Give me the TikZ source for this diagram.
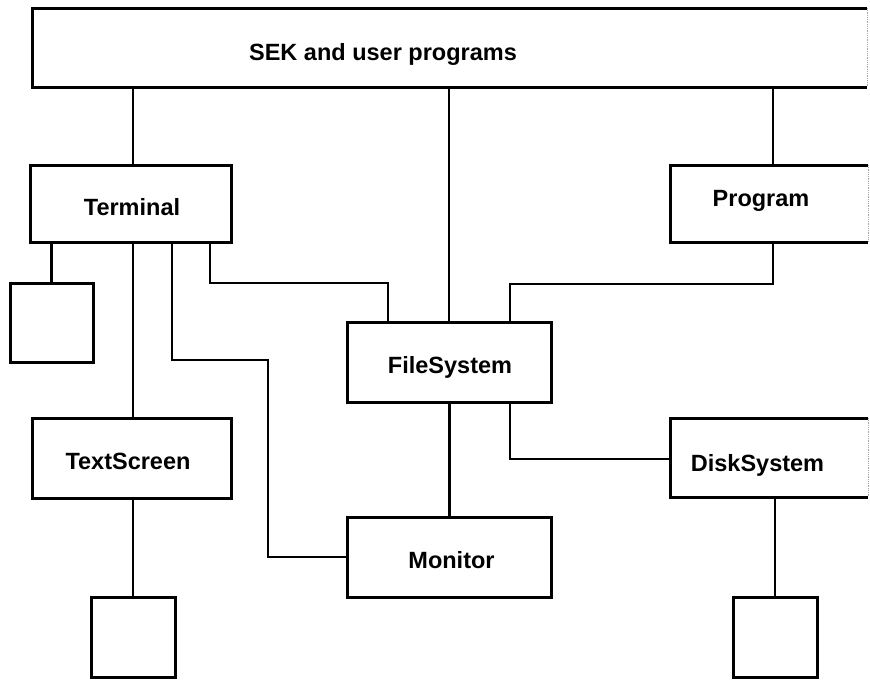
\documentclass[tikz,border=0pt]{standalone}
\usepackage{fontspec}
\setmainfont{Liberation Sans}
\begin{document}
\begin{tikzpicture}[x=1pt,y=-1pt,
  box/.style={draw=black,line width=3pt,rectangle,inner sep=0pt,outer sep=0pt},
  openbox/.style={draw=none,rectangle,inner sep=0pt,outer sep=0pt},
  lbl/.style={anchor=base,inner sep=0pt,font=\fontsize{23.5}{28}\selectfont\bfseries},
  wire/.style={line width=2.8pt,line join=miter,line cap=rect},
  faint/.style={line width=0.8pt,gray!70,densely dotted}]
\useasboundingbox (0,0) rectangle (870,680);
\fill[white] (0,0) rectangle (870,680);

% boxes
\node[openbox,minimum width=835pt,minimum height=79pt] (top) at (449.5,47.5) {};
\node[box,minimum width=201pt,minimum height=77pt] (term) at (130.5,203.5) {};
\node[openbox,minimum width=198pt,minimum height=77pt] (prog) at (769,203.5) {};
\node[box,minimum width=83pt,minimum height=79pt] (sqa) at (51.5,322.5) {};
\node[box,minimum width=204pt,minimum height=80pt] (fs) at (449,362) {};
\node[box,minimum width=199pt,minimum height=80pt] (ts) at (131.5,458) {};
\node[openbox,minimum width=198pt,minimum height=79pt] (ds) at (769,457.5) {};
\node[box,minimum width=204pt,minimum height=80pt] (mon) at (449.5,557) {};
\node[box,minimum width=84pt,minimum height=80pt] (sqb) at (133,637.5) {};
\node[box,minimum width=84pt,minimum height=80pt] (sqc) at (775,637.5) {};

% boxes cut by the right edge: strong left/top/bottom, faint right side
\foreach \n in {top,prog,ds}{
  \draw[line width=3pt,line join=miter] (\n.north east) -- (\n.north west) -- (\n.south west) -- (\n.south east);
  \draw[faint] (\n.north east) -- (\n.south east);
}

% labels
\node[lbl] (ltop) at (383,60) {SEK and user programs};
\node[lbl] (lterm) at (132,215) {Terminal};
\node[lbl] (lprog) at (761,206) {Program};
\node[lbl] (lfs) at (450,373) {FileSystem};
\node[lbl] (lts) at (128,469) {TextScreen};
\node[lbl] (lds) at (757.5,471) {DiskSystem};
\node[lbl] (lmon) at (451.5,568) {Monitor};

% bend points
\coordinate (a1) at (133,0);
\coordinate (p1) at (773,0);
\coordinate (b1) at (172,360);
\coordinate (b2) at (268,360);
\coordinate (c1) at (210,283);
\coordinate (c2) at (388,283);
\coordinate (d1) at (773,284);
\coordinate (d2) at (510,284);
\coordinate (e1) at (510,459);

% connectors
\draw[wire] (top.south -| a1) -- (term.north -| a1);
\draw[wire] (top.south -| fs.north) -- (fs.north);
\draw[wire] (top.south -| p1) -- (prog.north -| p1);
\draw[wire] (term.south -| sqa.north) -- (sqa.north);
\draw[wire] (term.south -| a1) -- (ts.north -| a1);
\draw[wire] (term.south -| b1) -- (b1) -- (b2) |- (mon.west);
\draw[wire] (term.south -| c1) -- (c1) -- (c2) -- (c2 |- fs.north);
\draw[wire] (prog.south -| d1) -- (d1) -- (d2) -- (d2 |- fs.north);
\draw[wire] (fs.south -| mon.north) -- (mon.north);
\draw[wire] (fs.south -| e1) -- (e1) -- (e1 -| ds.west);
\draw[wire] (ts.south -| sqb.north) -- (sqb.north);
\draw[wire] (ds.south -| sqc.north) -- (sqc.north);
\end{tikzpicture}
\end{document}
